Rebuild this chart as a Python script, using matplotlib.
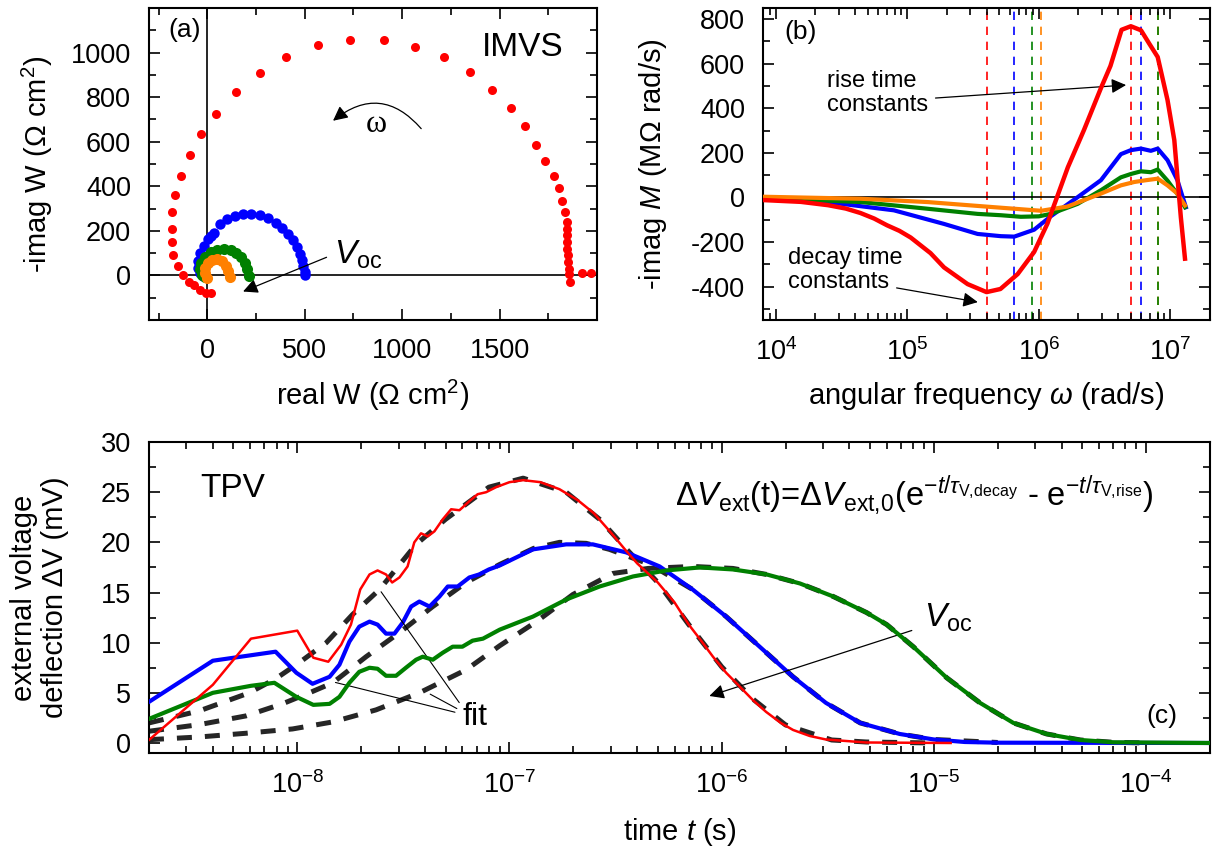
import numpy as np
import matplotlib
matplotlib.use('Agg')
import matplotlib.pyplot as plt
from matplotlib.ticker import MultipleLocator, FixedLocator, LogLocator, NullFormatter, FuncFormatter

plt.rcParams['font.family'] = ['Liberation Sans', 'DejaVu Sans']
plt.rcParams['mathtext.fontset'] = 'custom'
plt.rcParams['mathtext.rm'] = 'Liberation Sans'
plt.rcParams['mathtext.it'] = 'Liberation Sans:italic'
plt.rcParams['mathtext.bf'] = 'Liberation Sans:bold'
plt.rcParams['axes.unicode_minus'] = False

RED, BLUE, GREEN, ORANGE = '#ff0000', '#0000ff', '#008000', '#ff8000'

# ---- (a) IMVS Nyquist plot, real / -imag W (Ohm cm2)
a_red_re = [1971, 1923, 1863, 1858, 1855, 1852, 1850, 1848, 1846, 1845, 1844, 1844, 1837, 1820, 1803,
            1777, 1734, 1689, 1631, 1558, 1462, 1349, 1215, 1067, 906, 734, 567, 406, 268, 148, 45,
            -32, -91, -134, -167, -180, -184, -180, -175, -151, -127, -96, -70, -40, -9, 21]
a_red_im = [9, 12, -30, 5, 30, 60, 90, 120, 150, 180, 210, 241, 286, 335, 390,
            446, 512, 587, 670, 751, 831, 912, 978, 1027, 1055, 1056, 1032, 982, 910, 821, 726,
            634, 539, 447, 361, 284, 210, 148, 93, 41, 3, -30, -42, -65, -77, -77]
a_blue_re = [500, 500, 493, 485, 474, 459, 440, 414, 385, 351, 311, 270, 225, 184, 141, 101, 67, 33,
             17, 2, -19, -36, -48, -50, -40, -22]
a_blue_im = [0, 15, 41, 68, 98, 128, 157, 187, 213, 237, 256, 270, 276, 276, 267, 252, 231, 190,
             178, 163, 133, 101, 64, 34, 12, -3]
a_green_re = [213, 205, 192, 174, 149, 119, 84, 50, 19, -10, -31, -36, -26, -10]
a_green_im = [-3, 27, 56, 83, 101, 113, 119, 116, 104, 83, 56, 30, 4, -6]
a_orange_re = [115, 108, 94, 76, 50, 24, 2, -12, -10, -2]
a_orange_im = [-7, 19, 44, 64, 74, 71, 56, 34, 9, -10]

# ---- (b) -imag M vs angular frequency
b_red_w = [8e3, 1.55e4, 2.5e4, 3.4e4, 4.4e4, 5.6e4, 7e4, 8.7e4, 1.06e5, 1.5e5, 1.9e5, 2.87e5, 4.0e5,
           5.1e5, 6.9e5, 9.2e5, 1.16e6, 1.66e6, 2.2e6, 2.96e6, 3.5e6, 4.25e6, 5.0e6, 5.97e6, 6.9e6,
           8.0e6, 9.5e6, 1.07e7, 1.2e7, 1.29e7]
b_red = [-12, -20, -35, -50, -70, -95, -125, -150, -180, -250, -314, -389, -425,
         -411, -344, -245, -118, 135, 302, 490, 590, 752, 768, 750, 690,
         630, 437, 257, -90, -275]
b_blue_w = [8e3, 2.47e4, 7.9e4, 1.9e5, 3.42e5, 5.14e5, 6.5e5, 9.2e5, 1.23e6, 1.97e6, 2.96e6, 4.2e6,
            5e6, 5.97e6, 7.1e6, 8.0e6, 9.5e6, 1.13e7, 1.31e7]
b_blue = [-8, -21, -58, -119, -164, -174, -176, -145, -85, 1, 77, 194, 212, 219, 209, 219, 167, 77, -44]
b_green_w = [8e3, 4.43e4, 1.43e5, 3.42e5, 5.14e5, 7.3e5, 1.0e6, 1.23e6, 1.97e6, 2.96e6, 4.2e6, 5e6,
             5.97e6, 7.1e6, 8e6, 9.5e6, 1.13e7, 1.29e7]
b_green = [-2, -21, -51, -74, -80, -87, -85, -74, -29, 32, 90, 105, 117, 113, 125, 75, 15, -44]
b_orange_w = [8e3, 4.43e4, 1.43e5, 4.57e5, 1.04e6, 1.65e6, 2.96e6, 4.2e6, 5.3e6, 6.5e6, 8e6, 9.5e6,
              1.13e7, 1.29e7]
b_orange = [3, -6, -21, -44, -60, -41, 17, 54, 69, 77, 84, 54, 17, -36]
decay_w = [4.0e5, 6.45e5, 8.85e5, 1.04e6]   # red, blue, green, orange
rise_w = [5.0e6, 5.97e6, 8.1e6, 8.1e6]

# ---- (c) TPV transients (mV)
c_red_t = [2e-9, 4e-9, 6.05e-9, 1.0e-8, 1.19e-8, 1.40e-8, 1.61e-8, 1.79e-8, 1.98e-8, 2.19e-8, 2.39e-8,
           2.62e-8, 2.80e-8, 3.03e-8, 3.31e-8, 3.56e-8, 3.83e-8, 4.12e-8, 4.43e-8, 4.85e-8, 5.31e-8,
           5.81e-8, 6.47e-8, 7.08e-8, 7.76e-8, 8.65e-8, 1.0e-7, 1.16e-7, 1.4e-7, 1.72e-7, 2.1e-7,
           2.5e-7, 3.0e-7, 3.5e-7, 4.0e-7, 5.0e-7, 6e-7, 7e-7, 8e-7, 9.1e-7, 1.05e-6, 1.22e-6, 1.4e-6,
           1.62e-6, 1.9e-6, 2.17e-6, 2.6e-6, 3.1e-6, 4.8e-6, 1.2e-5]
c_red = [0.3, 5.8, 10.4, 11.2, 8.5, 8.1, 9.8, 11.8, 15.3, 16.8, 17.2,
         16.8, 16.0, 16.5, 17.6, 20.0, 20.9, 20.6, 21.1, 22.3, 23.3,
         23.2, 24.1, 24.8, 25.0, 25.5, 26.0, 26.2, 26.0, 25.3, 24.2,
         22.9, 21.0, 19.3, 17.9, 16.0, 14.0, 11.8, 10.2, 8.6, 7.0, 5.6, 4.3,
         3.1, 2.0, 1.3, 0.7, 0.35, 0.05, 0.0]
c_blue_t = [2e-9, 4e-9, 7.9e-9, 9.9e-9, 1.18e-8, 1.42e-8, 1.58e-8, 1.76e-8, 1.96e-8, 2.19e-8, 2.39e-8,
            2.62e-8, 2.87e-8, 3.14e-8, 3.44e-8, 3.76e-8, 4.2e-8, 4.68e-8, 5.12e-8, 5.7e-8, 6.47e-8,
            7.2e-8, 8.0e-8, 9e-8, 1.29e-7, 1.85e-7, 2.47e-7, 3.55e-7, 5.1e-7, 7.3e-7, 1.05e-6,
            1.51e-6, 2.17e-6, 3.1e-6, 4.5e-6, 6.9e-6, 1.0e-5, 1.4e-5, 2e-5, 2e-4]
c_blue = [4.1, 8.2, 9.1, 7.0, 5.9, 6.6, 7.8, 10.1, 11.6, 12.1, 11.8,
          10.9, 10.9, 12.0, 13.6, 14.1, 13.6, 14.6, 15.6, 15.6, 16.5,
          16.8, 17.3, 17.7, 19.3, 19.8, 19.8, 19.0, 17.6, 15.3, 12.6,
          9.6, 6.6, 4.0, 2.0, 0.9, 0.35, 0.1, 0.03, 0.0]
c_green_t = [2e-9, 4e-9, 6.05e-9, 7.8e-9, 9.9e-9, 1.19e-8, 1.42e-8, 1.58e-8, 1.76e-8, 1.96e-8, 2.19e-8,
             2.39e-8, 2.62e-8, 2.92e-8, 3.25e-8, 3.63e-8, 3.9e-8, 4.35e-8, 4.85e-8, 5.4e-8, 6.0e-8,
             6.7e-8, 7.5e-8, 9e-8, 1.29e-7, 1.85e-7, 2.66e-7, 3.82e-7, 5.48e-7, 7.9e-7, 1.13e-6,
             1.63e-6, 2.34e-6, 3.36e-6, 4.82e-6, 6.0e-6, 8.0e-6, 1.15e-5, 1.65e-5, 2.37e-5, 3.4e-5,
             4.9e-5, 7e-5, 2e-4]
c_green = [2.4, 5.0, 5.7, 6.0, 4.6, 3.8, 3.9, 4.6, 6.0, 7.1, 7.5,
           7.4, 6.7, 6.7, 7.5, 8.3, 8.6, 8.3, 9.0, 9.6, 9.6,
           10.2, 10.4, 11.3, 12.6, 14.3, 15.6, 16.6, 17.2, 17.5, 17.3,
           16.8, 15.9, 14.6, 13.0, 11.8, 9.6, 6.5, 4.0, 2.0, 0.9,
           0.3, 0.07, 0.0]
fit_red_t = [2e-9, 3.45e-9, 5.94e-9, 7.9e-9, 1.02e-8, 1.37e-8, 1.82e-8, 2.44e-8, 3.63e-8, 5.0e-8, 8.0e-8,
             1.16e-7, 1.85e-7, 2.66e-7, 3.5e-7, 5e-7, 7e-7, 1e-6, 1.4e-6, 2e-6, 3.3e-6, 4.8e-6, 1e-5]
fit_red = [2.0, 3.2, 5.0, 6.4, 8.0, 10.0, 12.8, 15.3, 19.8, 22.3, 25.5,
           26.4, 25.0, 22.3, 19.5, 16.0, 11.8, 7.6, 4.4, 1.8, 0.3, 0.1, 0.0]
fit_blue_t = [2e-9, 3.45e-9, 5.73e-9, 8.5e-9, 1.14e-8, 1.47e-8, 2.11e-8, 3.03e-8, 4.35e-8, 6.25e-8, 9e-8,
              1.3e-7, 1.72e-7, 2.3e-7, 2.96e-7, 4.6e-7, 7.3e-7, 1.05e-6, 1.51e-6, 2.17e-6, 3.1e-6,
              4.5e-6, 6.9e-6, 1e-5, 2e-5]
fit_blue = [1.17, 1.83, 2.7, 3.9, 5.0, 6.0, 8.6, 11.0, 13.6, 16.0, 17.8,
            19.4, 20.0, 19.9, 19.3, 17.8, 15.3, 12.6, 9.6, 6.6, 4.0,
            2.0, 0.9, 0.35, 0.05]
fit_green_t = [2e-9, 3.45e-9, 5.73e-9, 9.5e-9, 1.47e-8, 2.35e-8, 3.76e-8, 6.25e-8, 9e-8, 1.34e-7, 1.99e-7,
               3.07e-7, 4.5e-7, 7.3e-7, 1.13e-6, 1.63e-6, 2.34e-6, 3.36e-6, 4.82e-6, 6e-6, 8e-6,
               1.15e-5, 1.65e-5, 2.37e-5, 3.4e-5, 4.9e-5, 7e-5, 1e-4]
fit_green = [0.33, 0.6, 0.97, 1.4, 2.1, 3.3, 5.0, 7.3, 9.7, 12.1, 14.8,
             16.9, 17.4, 17.6, 17.4, 16.8, 15.9, 14.6, 13.0, 11.8, 9.6,
             6.5, 4.0, 2.0, 0.9, 0.3, 0.07, 0.0]

TICK = 19.5
LABEL = 21


def style(ax, logx=False):
    for s in ax.spines.values():
        s.set_linewidth(1.5)
    ax.tick_params(which='both', direction='in', top=True, right=True, width=1.2,
                   labelsize=TICK, pad=13)
    ax.tick_params(which='major', length=8)
    ax.tick_params(which='minor', length=5)
    if logx:
        ax.set_xscale('log')
        ax.xaxis.set_major_locator(LogLocator(base=10, numticks=20))
        ax.xaxis.set_minor_locator(LogLocator(base=10, subs=np.arange(2, 10), numticks=20))
        ax.xaxis.set_minor_formatter(NullFormatter())
        ax.xaxis.set_major_formatter(FuncFormatter(lambda v, p: r'$10^{%d}$' % int(round(np.log10(v)))))


fig = plt.figure(figsize=(12.16, 8.56), dpi=100)
ax_a = fig.add_axes([0.1225, 0.6262, 0.3684, 0.3645])
ax_b = fig.add_axes([0.6275, 0.6262, 0.3676, 0.3645])
ax_c = fig.add_axes([0.1225, 0.1203, 0.8725, 0.3633])

# (a)
style(ax_a)
ax_a.axhline(0, color='k', lw=1.2, zorder=1)
ax_a.axvline(0, color='k', lw=1.2, zorder=1)
ax_a.plot(a_red_re, a_red_im, 'o', color=RED, ms=6.5, mec='none', zorder=3)
ax_a.plot(a_blue_re, a_blue_im, 'o', color=BLUE, ms=7.5, mec='none', zorder=3)
ax_a.plot(a_green_re, a_green_im, 'o', color=GREEN, ms=8, mec='none', zorder=4)
ax_a.plot(a_orange_re, a_orange_im, 'o', color=ORANGE, ms=8, mec='none', zorder=5)
ax_a.set_xlim(-300, 2000)
ax_a.set_ylim(-200, 1200)
ax_a.xaxis.set_major_locator(FixedLocator([0, 500, 1000, 1500]))
ax_a.xaxis.set_minor_locator(FixedLocator([-250, 250, 750, 1250, 1750]))
ax_a.yaxis.set_major_locator(FixedLocator([0, 200, 400, 600, 800, 1000]))
ax_a.yaxis.set_minor_locator(FixedLocator([-100, 100, 300, 500, 700, 900, 1100]))
ax_a.set_xlabel(r'real W ($\Omega$ cm$^2$)', fontsize=LABEL, labelpad=10)
ax_a.set_ylabel(r'-imag W ($\Omega$ cm$^2$)', fontsize=LABEL)
ax_a.yaxis.set_label_coords(-0.21, 0.5)
ax_a.text(0.08, 0.93, '(a)', transform=ax_a.transAxes, fontsize=19, ha='center', va='center')
ax_a.text(0.835, 0.872, 'IMVS', transform=ax_a.transAxes, fontsize=24, ha='center', va='center')
ax_a.annotate('', xy=(634, 686), xytext=(1107, 649),
              arrowprops=dict(arrowstyle='-|>', color='k', lw=0.9, mutation_scale=22,
                              connectionstyle='arc3,rad=0.5'))
ax_a.text(866, 679, 'ω', fontsize=23, family='Liberation Serif', ha='center', va='center')
ax_a.text(650, 93, r'$V_{\rm oc}$', fontsize=24, ha='left', va='center')
ax_a.annotate('', xy=(170, -77), xytext=(625, 86),
              arrowprops=dict(arrowstyle='-|>', color='k', lw=0.9, mutation_scale=22))

# (b)
style(ax_b, logx=True)
for w, col in zip(decay_w, [RED, BLUE, GREEN, ORANGE]):
    ax_b.axvline(w, color=col, lw=1.2, ls=(0, (5, 4)), zorder=1)
for w, col in zip(rise_w[::-1], [ORANGE, GREEN, BLUE, RED]):
    ax_b.axvline(w, color=col, lw=1.2, ls=(0, (5, 4)), zorder=1)
ax_b.axhline(0, color='k', lw=1.2, zorder=1)
ax_b.plot(b_blue_w, b_blue, color=BLUE, lw=3, zorder=3)
ax_b.plot(b_green_w, b_green, color=GREEN, lw=3, zorder=3)
ax_b.plot(b_orange_w, b_orange, color=ORANGE, lw=3, zorder=3)
ax_b.plot(b_red_w, b_red, color=RED, lw=3.2, zorder=4)
ax_b.set_xlim(8e3, 2e7)
ax_b.set_ylim(-550, 850)
ax_b.yaxis.set_major_locator(MultipleLocator(200))
ax_b.yaxis.set_minor_locator(MultipleLocator(100))
ax_b.set_xlabel(r'angular frequency $\omega$ (rad/s)', fontsize=LABEL, labelpad=10)
ax_b.set_ylabel(r'-imag $M$ (M$\Omega$ rad/s)', fontsize=LABEL)
ax_b.yaxis.set_label_coords(-0.21, 0.5)
ax_b.text(0.083, 0.923, '(b)', transform=ax_b.transAxes, fontsize=19, ha='center', va='center')
ax_b.text(0.143, 0.728, 'rise time\nconstants', transform=ax_b.transAxes, fontsize=17,
          ha='left', va='center', linespacing=1.1)
ax_b.text(0.056, 0.16, 'decay time\nconstants', transform=ax_b.transAxes, fontsize=17,
          ha='left', va='center', linespacing=1.1)
ax_b.annotate('', xy=(4.83e6, 505), xytext=(1.56e5, 445),
              arrowprops=dict(arrowstyle='-|>', color='k', lw=0.9, mutation_scale=22))
ax_b.annotate('', xy=(3.6e5, -472), xytext=(7.9e4, -404),
              arrowprops=dict(arrowstyle='-|>', color='k', lw=0.9, mutation_scale=22))

# (c)  fits sit under the measured curves
style(ax_c, logx=True)
for ft, fv in [(fit_red_t, fit_red), (fit_blue_t, fit_blue), (fit_green_t, fit_green)]:
    ax_c.plot(ft, fv, color='#262626', lw=3.6, ls=(0, (3, 2.6)), zorder=2)
ax_c.plot(c_blue_t, c_blue, color=BLUE, lw=3, zorder=3)
ax_c.plot(c_green_t, c_green, color=GREEN, lw=3, zorder=4)
ax_c.plot(c_red_t, c_red, color=RED, lw=1.8, zorder=5)
ax_c.set_xlim(2e-9, 2e-4)
ax_c.set_ylim(-1, 30)
ax_c.yaxis.set_major_locator(MultipleLocator(5))
ax_c.yaxis.set_minor_locator(MultipleLocator(2.5))
ax_c.set_xlabel(r'time $t$ (s)', fontsize=LABEL, labelpad=12)
ax_c.set_ylabel('external voltage\ndeflection ΔV (mV)', fontsize=LABEL, linespacing=1.15)
ax_c.yaxis.set_label_coords(-0.075, 0.5)
ax_c.text(0.048, 0.852, 'TPV', transform=ax_c.transAxes, fontsize=24, ha='left', va='center')
ax_c.text(0.955, 0.119, '(c)', transform=ax_c.transAxes, fontsize=19, ha='center', va='center')
ax_c.text(0.496, 0.83,
          r'$\Delta V_{\rm ext}$(t)=$\Delta V_{\rm ext,\!0}$(e$^{-t/\tau_{\rm V,\!decay}}$ - e$^{-t/\tau_{\rm V,\!rise}}$)',
          transform=ax_c.transAxes, fontsize=23.5, ha='left', va='center')
ax_c.text(6.9e-8, 2.6, 'fit', fontsize=23, ha='center', va='center')
for target, start in [((2.44e-8, 15.3), (5.9e-8, 3.8)), ((1.47e-8, 6.1), (5.7e-8, 3.0)),
                      ((4.12e-8, 5.0), (5.8e-8, 3.3))]:
    ax_c.annotate('', xy=target, xytext=start, arrowprops=dict(arrowstyle='-', color='k', lw=0.8))
ax_c.text(9.0e-6, 12.5, r'$V_{\rm oc}$', fontsize=24, ha='left', va='center')
ax_c.annotate('', xy=(8.5e-7, 4.6), xytext=(8.1e-6, 11.3),
              arrowprops=dict(arrowstyle='-|>', color='k', lw=0.9, mutation_scale=22))

fig.savefig('out.png', dpi=100)
